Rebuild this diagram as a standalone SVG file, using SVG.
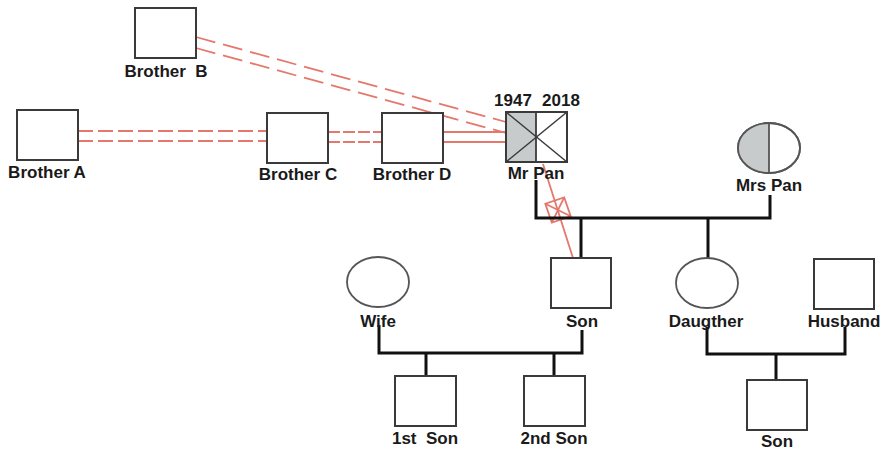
<svg xmlns="http://www.w3.org/2000/svg" width="883" height="450" viewBox="0 0 883 450">
<style>
.box{fill:#fff;stroke:#3a3a3a;stroke-width:2}
.oval{fill:#fff;stroke:#555;stroke-width:1.8}
.lbl{font-family:"Liberation Sans",Arial,sans-serif;font-weight:bold;font-size:17px;fill:#1a1a1a;text-anchor:middle;white-space:pre}
.k{fill:none;stroke:#111;stroke-width:3}
.r{fill:none;stroke:#e5786c;stroke-width:1.8}
.rd1{stroke-dasharray:15 5}
.rd2{stroke-dasharray:20 8}
.rd3{stroke-dasharray:12 3}
.grey{fill:#c8cbcb}
</style>
<rect width="883" height="450" fill="#fff"/>
<g id="connectors">
<line class="r rd1" x1="78" y1="131" x2="267" y2="131"/>
<line class="r rd1" x1="78" y1="141" x2="267" y2="141"/>
<line class="r rd3" x1="328" y1="132" x2="382" y2="132"/>
<line class="r rd3" x1="328" y1="142" x2="382" y2="142"/>
<line class="r" x1="443" y1="132" x2="506" y2="132"/>
<line class="r" x1="443" y1="142" x2="506" y2="142"/>
<line class="r rd2" x1="196" y1="37" x2="506" y2="122"/>
<line class="r rd2" x1="196" y1="48" x2="506" y2="133"/>
<line class="r" x1="543" y1="164" x2="573" y2="258"/>
<g transform="translate(558,210) rotate(-19)">
<rect class="r" x="-10" y="-10" width="20" height="20"/>
<line class="r" x1="-10" y1="-10" x2="10" y2="10"/>
<line class="r" x1="10" y1="-10" x2="-10" y2="10"/>
</g>
<polyline class="k" points="536,180 536,218 770,218 770,195"/>
<line class="k" x1="581" y1="218" x2="581" y2="258"/>
<line class="k" x1="708" y1="218" x2="708" y2="258"/>
<polyline class="k" points="379,325 379,353 582,353 582,330"/>
<line class="k" x1="426" y1="353" x2="426" y2="376"/>
<line class="k" x1="554" y1="353" x2="554" y2="376"/>
<polyline class="k" points="707,327 707,354 845,354 845,327"/>
<line class="k" x1="776" y1="354" x2="776" y2="380"/>
</g>
<g id="brotherB"><rect class="box" x="135" y="8" width="61" height="50"/><text class="lbl" x="166" y="77">Brother  B</text></g>
<g id="brotherA"><rect class="box" x="17" y="110" width="61" height="50"/><text class="lbl" x="47" y="178">Brother A</text></g>
<g id="brotherC"><rect class="box" x="267" y="113" width="61" height="50"/><text class="lbl" x="298" y="180">Brother C</text></g>
<g id="brotherD"><rect class="box" x="382" y="113" width="61" height="50"/><text class="lbl" x="412" y="180">Brother D</text></g>
<g id="mrPan">
<rect class="box" x="506" y="112" width="61" height="50"/>
<rect class="grey" x="507" y="113" width="29" height="48"/>
<line stroke="#3a3a3a" stroke-width="1.8" x1="536" y1="112" x2="536" y2="162"/>
<line stroke="#3a3a3a" stroke-width="1.5" x1="506" y1="112" x2="567" y2="162"/>
<line stroke="#3a3a3a" stroke-width="1.5" x1="567" y1="112" x2="506" y2="162"/>
<rect x="506" y="112" width="61" height="50" fill="none" stroke="#3a3a3a" stroke-width="2"/>
<text class="lbl" x="513" y="106">1947</text>
<text class="lbl" x="561" y="106">2018</text>
<text class="lbl" x="536" y="179">Mr Pan</text>
</g>
<g id="mrsPan">
<ellipse class="oval" cx="769" cy="148" rx="31" ry="25"/>
<path class="grey" d="M769,123 A31,25 0 0 0 769,173 Z"/>
<ellipse cx="769" cy="148" rx="31" ry="25" fill="none" stroke="#555" stroke-width="1.8"/>
<line stroke="#555" stroke-width="1.8" x1="769" y1="123" x2="769" y2="173"/>
<text class="lbl" x="769" y="191">Mrs Pan</text>
</g>
<g id="wife"><ellipse class="oval" cx="378" cy="282" rx="31" ry="25"/><text class="lbl" x="378" y="327">Wife</text></g>
<g id="son"><rect class="box" x="551" y="258" width="60" height="50"/><text class="lbl" x="582" y="327">Son</text></g>
<g id="daughter"><ellipse class="oval" cx="707" cy="283" rx="31" ry="25"/><text class="lbl" x="706" y="327">Daugther</text></g>
<g id="husband"><rect class="box" x="814" y="259" width="60" height="50"/><text class="lbl" x="844" y="327">Husband</text></g>
<g id="firstSon"><rect class="box" x="395" y="376" width="61" height="50"/><text class="lbl" x="425" y="444">1st  Son</text></g>
<g id="secondSon"><rect class="box" x="524" y="376" width="61" height="50"/><text class="lbl" x="554" y="444">2nd Son</text></g>
<g id="grandson"><rect class="box" x="747" y="380" width="60" height="50"/><text class="lbl" x="777" y="447">Son</text></g>
</svg>
